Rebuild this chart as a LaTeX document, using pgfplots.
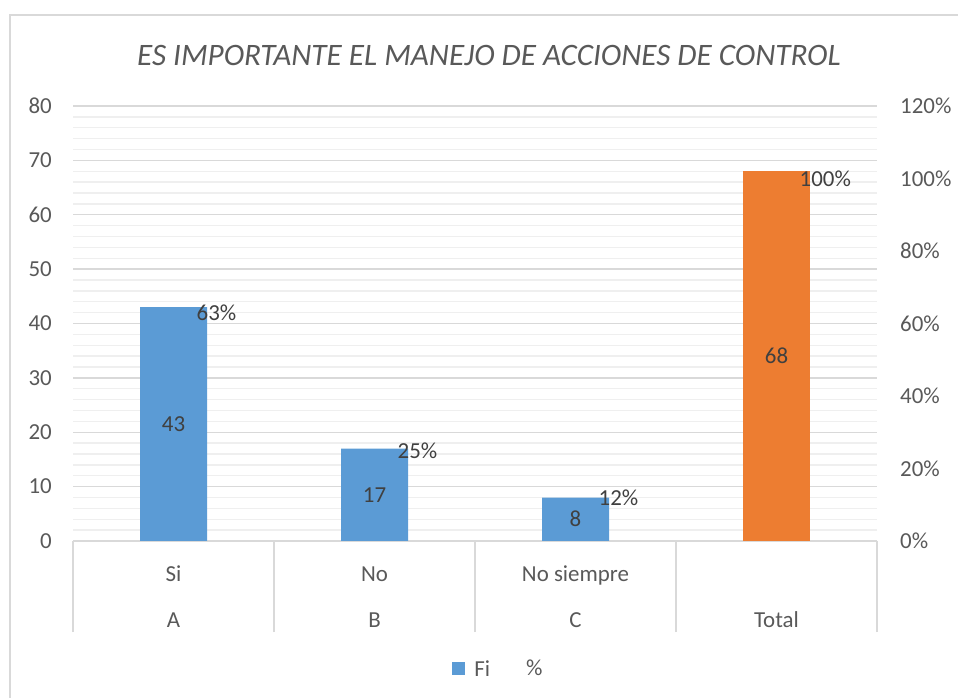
\documentclass[border=0pt]{standalone}
\usepackage{fontspec}
\setmainfont{Carlito}
\usepackage{pgfplots}
\pgfplotsset{compat=1.18}
\pgfplotsset{/pgf/number format/assume math mode=true}
\definecolor{gridmajor}{HTML}{D9D9D9}
\definecolor{gridminor}{HTML}{EFEFEF}
\definecolor{txt}{HTML}{595959}
\definecolor{lbl}{HTML}{404040}
\definecolor{blueC}{HTML}{5B9BD5}
\definecolor{orangeC}{HTML}{ED7D31}
\newcommand{\fs}{\fontsize{23}{27.6}\selectfont}
\begin{document}
\begin{tikzpicture}
\useasboundingbox (0,0) rectangle (958bp,698bp);
\draw[gridmajor, line width=2bp] (10bp,0bp) -- (10bp,683bp) -- (958bp,683bp);
\begin{axis}[
  at={(73bp,157bp)}, anchor=south west,
  width=804bp, height=435bp, scale only axis,
  xmin=-0.5, xmax=3.5, ymin=0, ymax=80,
  axis x line*=bottom, axis y line*=left,
  y axis line style={draw=none},
  x axis line style={draw=gridmajor, line width=1.3bp},
  ytick={0,10,...,80}, minor y tick num=4,
  ymajorgrids, yminorgrids,
  major grid style={draw=gridmajor, line width=1.3bp},
  minor grid style={draw=gridminor, line width=1.3bp},
  tick align=outside,
  major tick length=0pt, minor tick length=0pt,
  tick style={draw=gridmajor, line width=1.3bp},
  yticklabel style={font=\fs, text=txt, inner sep=0pt, anchor=east, xshift=-21bp},
  xtick={0,1,2,3},
  xticklabels={{\strut Si\\\strut A},{\strut No\\\strut B},{\strut No siempre\\\strut C},{\strut\\\strut Total}},
  xticklabel style={font=\fontsize{23}{46}\selectfont, text=txt, align=center, anchor=center, yshift=-54bp},
  extra x ticks={-0.5,0.5,1.5,2.5,3.5},
  extra x tick labels={},
  extra x tick style={major tick length=91bp},
  title={ES IMPORTANTE EL MANEJO DE ACCIONES DE CONTROL},
  title style={at={(0.5174,1.103)}, anchor=center, font=\fontsize{31.3}{37}\selectfont\itshape, text=txt},
  legend style={at={(0.529,-0.294)}, anchor=center, draw=none, fill=none, font=\fs, text=txt, legend columns=2,
    /tikz/every odd column/.append style={column sep=7bp},
    /tikz/every even column/.append style={column sep=12bp}},
  legend image code/.code={\path[draw=none,#1] (0bp,-6.5bp) rectangle (13bp,6.5bp);},
]
\addplot[ybar, bar width=67bp, bar shift=0pt, fill=blueC, draw=none,
  nodes near coords, visualization depends on=y \as \rawy,
  every node near coord/.append style={anchor=center, shift={(axis direction cs:0,-\rawy/2)}, font=\fs, text=lbl}, forget plot]
  coordinates {(0,43) (1,17) (2,8)};
\addplot[ybar, bar width=67bp, bar shift=0pt, fill=orangeC, draw=none,
  nodes near coords, visualization depends on=y \as \rawy,
  every node near coord/.append style={anchor=center, shift={(axis direction cs:0,-\rawy/2)}, font=\fs, text=lbl}, forget plot]
  coordinates {(3,68)};
\addlegendimage{fill=blueC, draw=none}
\addlegendentry{Fi}
\addlegendimage{fill=none, draw=none}
\addlegendentry{\%}
\end{axis}
\begin{axis}[
  at={(73bp,157bp)}, anchor=south west,
  width=804bp, height=435bp, scale only axis,
  xmin=-0.5, xmax=3.5, ymin=0, ymax=120,
  hide x axis, axis y line*=right, y axis line style={draw=none},
  ytick={0,20,...,120}, major tick length=0pt, minor tick length=0pt,
  yticklabel={\pgfmathprintnumber{\tick}\%},
  yticklabel style={font=\fs, text=txt, inner sep=0pt, anchor=west, xshift=23bp},
]
\addplot[draw=none, nodes near coords, point meta=explicit symbolic,
  every node near coord/.append style={anchor=west, xshift=23bp, inner sep=0pt, font=\fs, text=lbl}]
  coordinates {(0,63) [63\%] (1,25) [25\%] (2,12) [12\%] (3,100) [100\%]};
\end{axis}
\end{tikzpicture}
\end{document}
